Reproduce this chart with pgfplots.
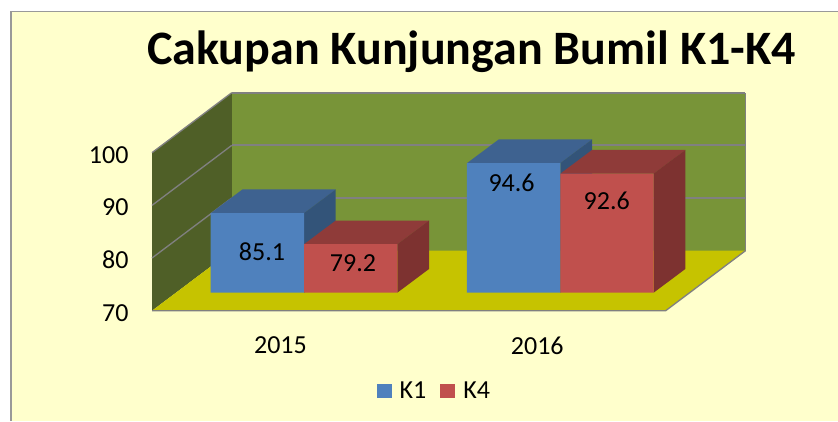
\documentclass[border=0pt]{standalone}
\usepackage{pgfplots}
\pgfplotsset{compat=1.18}
\usepackage{fontspec}
\setmainfont{Carlito}
\definecolor{bgc}{HTML}{FFFFCC}
\definecolor{backw}{HTML}{789438}
\definecolor{leftw}{HTML}{4F5F27}
\definecolor{floorc}{HTML}{C6C300}
\definecolor{gridc}{HTML}{808080}
\definecolor{bf}{HTML}{4F81BD}
\definecolor{bt}{HTML}{3E6290}
\definecolor{bs}{HTML}{335479}
\definecolor{rf}{HTML}{C0504D}
\definecolor{rt}{HTML}{8F3B39}
\definecolor{rs}{HTML}{7D3230}
\begin{document}
\begin{tikzpicture}
\path[use as bounding box] (0,0) rectangle (628.5pt,315.75pt);
\fill[bgc] (8.25pt,0pt) rectangle (628.5pt,307pt);
\draw[color=black!40,line width=1pt] (8.25pt,0pt) -- (8.25pt,307pt) -- (628.5pt,307pt);
% wall plane: the frame with its ticks
\begin{axis}[
  at={(114pt,82.725pt)},anchor=south west,scale only axis,
  width=462.33pt,height=177.75pt,
  xmin=-0.5,xmax=1.9,ymin=70,ymax=115,clip=false,
  axis x line=bottom,axis y line=left,
  axis line style={draw=none},
  xtick={0,1},xticklabels={2015,2016},
  ytick={70,80,90,100},
  tick style={draw=none},
  ticklabel style={font=\fontsize{19.5}{21}\selectfont,text=black},
  /pgf/number format/assume math mode=true,
  xticklabel style={yshift=-14pt},
  yticklabel style={xshift=-12pt,yshift=-1.5pt},
  title={\fontsize{36}{40}\selectfont\bfseries Cakupan Kunjungan Bumil K1-K4},
  title style={at={(axis description cs:0.5183,1.06)},anchor=center},
]
\addplot[fill=backw,draw=none] coordinates {(-0.1895,81.39)(1.8105,81.39)(1.8105,111.39)(-0.1895,111.39)} -- cycle;
\addplot[fill=leftw,draw=none] coordinates {(-0.5,70)(-0.1895,81.39)(-0.1895,111.39)(-0.5,100)} -- cycle;
\addplot[fill=floorc,draw=none] coordinates {(-0.5,70)(1.5,70)(1.8105,81.39)(-0.1895,81.39)} -- cycle;
\addplot[gridc,line width=1.4pt] coordinates {(-0.1895,91.39)(1.8105,91.39)};
\addplot[gridc,line width=1.4pt] coordinates {(-0.1895,101.39)(1.8105,101.39)};
\addplot[gridc,line width=1.4pt] coordinates {(-0.1895,111.39)(1.8105,111.39)};
\addplot[gridc,line width=1pt] coordinates {(1.8105,81.39)(1.8105,111.39)};
\addplot[gridc,line width=1pt] coordinates {(-0.5,80)(-0.1895,91.39)};
\addplot[gridc,line width=1pt] coordinates {(-0.5,90)(-0.1895,101.39)};
\addplot[gridc,line width=1pt] coordinates {(-0.5,100)(-0.1895,111.39)};
\addplot[gridc,line width=1pt] coordinates {(-0.5,70)(1.5,70)(1.8105,81.39)};
\end{axis}
% bar plane
\begin{axis}[
  at={(131.89pt,96.225pt)},anchor=south west,scale only axis,
  width=384.45pt,height=118.5pt,
  xmin=-0.5,xmax=1.5,ymin=70,ymax=100,
  axis lines=none,ticks=none,clip=false,
  legend columns=2,
  legend style={at={(0.5050,-0.622)},anchor=center,draw=none,fill=none,
    font=\fontsize{19.5}{21}\selectfont,
    /tikz/every even column/.append style={column sep=8.5pt},
    /tikz/every odd column/.append style={column sep=4pt}},
  legend image code/.code={\fill[#1] (0pt,-5.6pt) rectangle (11.25pt,5.6pt);},
]
% 2015
\addplot[forget plot,fill=bt,draw=none] coordinates {(-0.364,85.1)(0,85.1)(0.1237,89.6)(-0.2403,89.6)} -- cycle;
\addplot[forget plot,fill=bs,draw=none] coordinates {(0,70)(0.1237,74.5)(0.1237,89.6)(0,85.1)} -- cycle;
\addplot[forget plot,fill=rt,draw=none] coordinates {(0,79.2)(0.364,79.2)(0.4877,83.7)(0.1237,83.7)} -- cycle;
\addplot[forget plot,fill=rs,draw=none] coordinates {(0.364,70)(0.4877,74.5)(0.4877,83.7)(0.364,79.2)} -- cycle;
% 2016
\addplot[forget plot,fill=bt,draw=none] coordinates {(0.636,94.6)(1,94.6)(1.1237,99.1)(0.7597,99.1)} -- cycle;
\addplot[forget plot,fill=bs,draw=none] coordinates {(1,70)(1.1237,74.5)(1.1237,99.1)(1,94.6)} -- cycle;
\addplot[forget plot,fill=rt,draw=none] coordinates {(1,92.6)(1.364,92.6)(1.4877,97.1)(1.1237,97.1)} -- cycle;
\addplot[forget plot,fill=rs,draw=none] coordinates {(1.364,70)(1.4877,74.5)(1.4877,97.1)(1.364,92.6)} -- cycle;
% fronts
\addplot[ybar,bar width=70pt,bar shift=-35pt,fill=bf,draw=none] coordinates {(0,85.1)(1,94.6)};
\addlegendentry{K1}
\addplot[ybar,bar width=70pt,bar shift=35pt,fill=rf,draw=none] coordinates {(0,79.2)(1,92.6)};
\addlegendentry{K4}
% data labels
\addplot[forget plot,draw=none,mark=none,point meta=explicit symbolic,
  nodes near coords,
  every node near coord/.style={anchor=center,font=\fontsize{19.5}{21}\selectfont,text=black}]
  coordinates {(-0.164,77.78)[85.1] (0.191,75.64)[79.2] (0.81,90.88)[94.6] (1.181,87.47)[92.6]};
\end{axis}
\end{tikzpicture}
\end{document}
